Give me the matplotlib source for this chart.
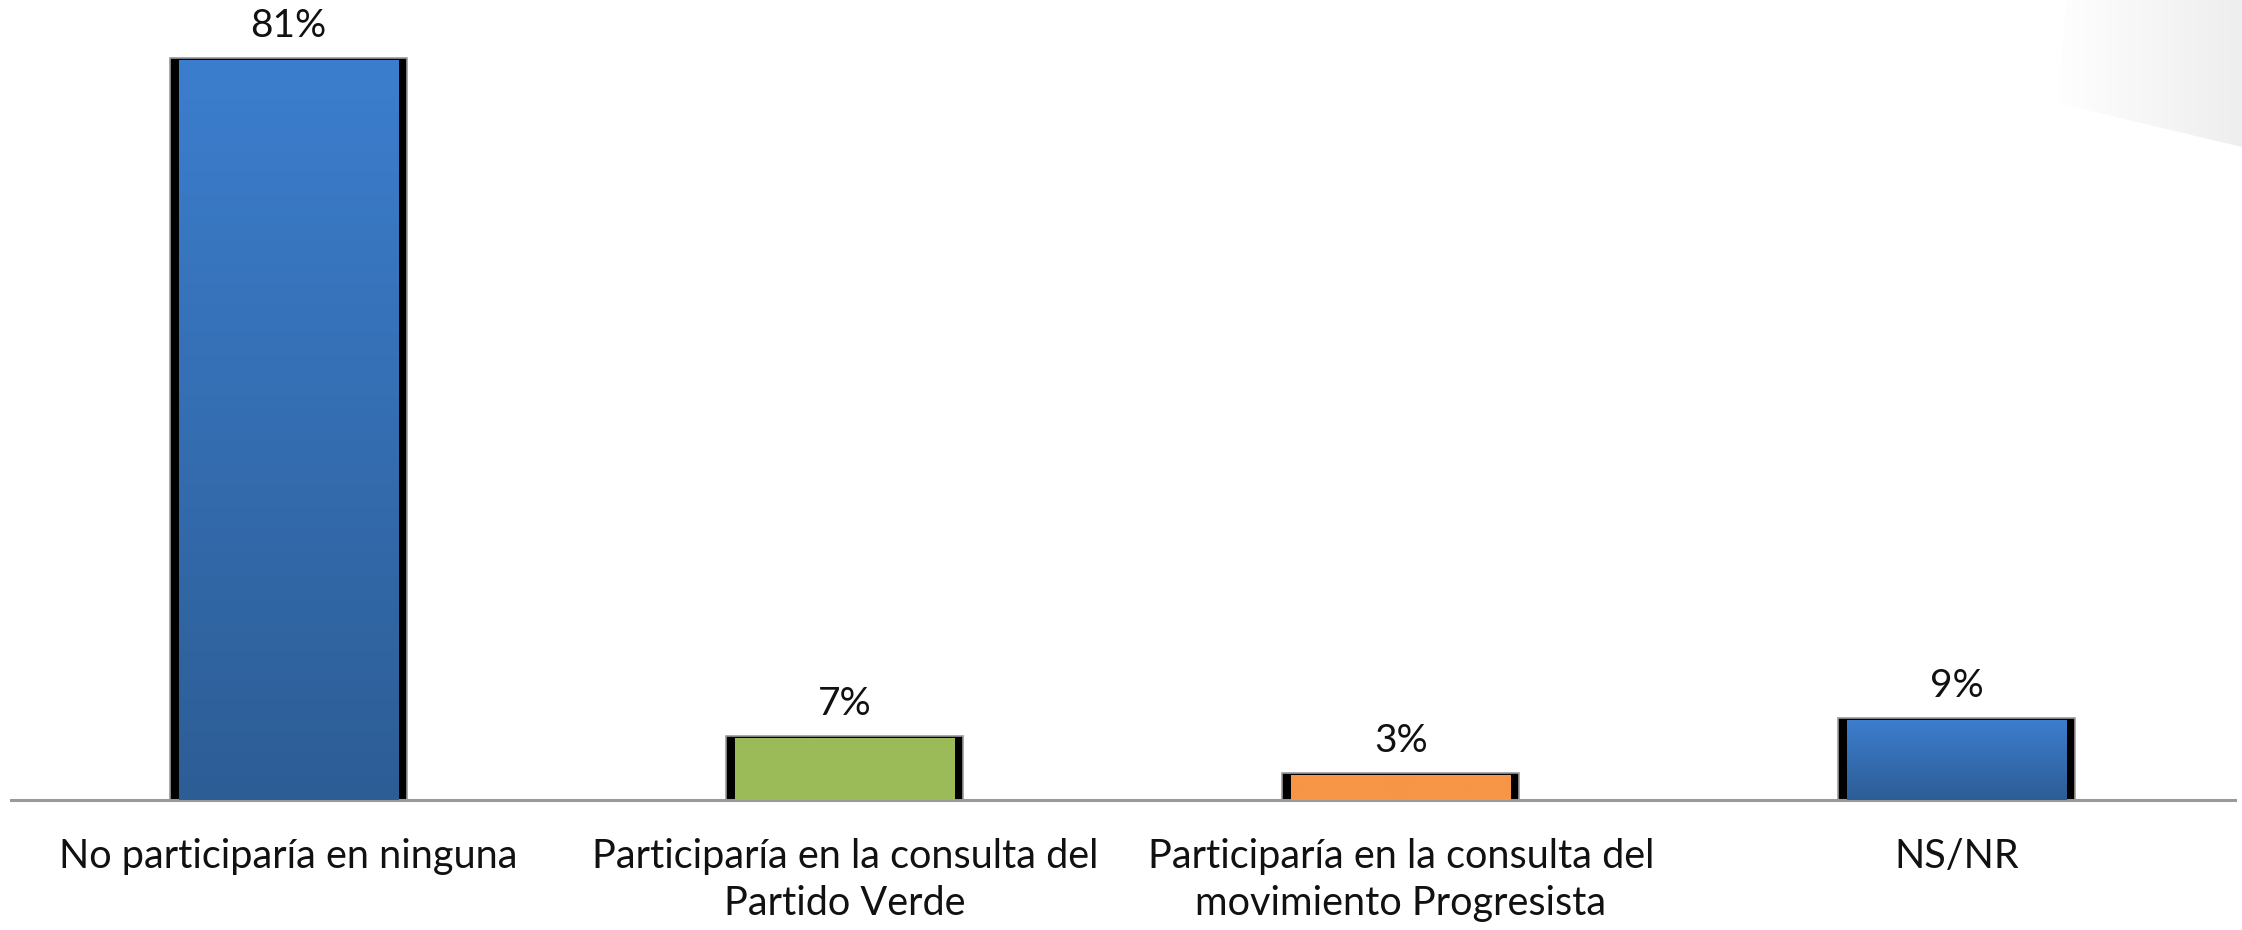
import numpy as np
import matplotlib
matplotlib.use("Agg")
import matplotlib.pyplot as plt
from matplotlib.colors import LinearSegmentedColormap
from matplotlib.patches import Polygon

categories = ["No participaría en ninguna",
              "Participaría en la consulta del\nPartido Verde",
              "Participaría en la consulta del\nmovimiento Progresista",
              "NS/NR"]
values = [81, 7, 3, 9]
labels = ["81%", "7%", "3%", "9%"]
colors = [("#3C7ECE", "#2D5D95"), ("#9BBB59", "#9BBB59"),
          ("#F79646", "#F79646"), ("#3C7ECE", "#2D5D95")]

plt.rcParams['font.family'] = ['Lato', 'DejaVu Sans']

fig = plt.figure(figsize=(22.42, 9.3), dpi=100)

# faint grey wedge top-right (slide background)
bg = fig.add_axes([0, 0, 1, 1], zorder=-5)
bg.set_xlim(0, 2242)
bg.set_ylim(930, 0)
bg.axis("off")
grad = np.tile(np.linspace(0, 1, 256), (2, 1))
wedge_cmap = LinearSegmentedColormap.from_list("w", ["#FFFFFF", "#EEEEEE"])
im = bg.imshow(grad, cmap=wedge_cmap, extent=[2050, 2242, 150, 0], aspect="auto")
wedge = Polygon([[2067, 0], [2242, 0], [2242, 147], [2057, 103]], closed=True,
                facecolor="none", edgecolor="none")
bg.add_patch(wedge)
im.set_clip_path(wedge)

ax = fig.add_axes([10.5 / 2242, 130 / 930, (2235 - 10.5) / 2242, (800 - 21) / 930])
ax.set_xlim(-0.5, 3.5)
ax.set_ylim(0, 85)

x = np.arange(len(categories))
outer_w = 0.426
inner_w = 0.394

# dark back of bars (gives the black side edges)
ax.bar(x, values, width=outer_w, color="black", edgecolor="#9A9A9A", linewidth=1.2, zorder=2)

for xi, v, (c_top, c_bot) in zip(x, values, colors):
    inner = ax.bar(xi, v - 0.25, width=inner_w, color=c_top, linewidth=0, zorder=3)[0]
    cmap = LinearSegmentedColormap.from_list("g", [c_bot, c_top])
    g = np.linspace(0, 1, 256).reshape(-1, 1)
    img = ax.imshow(g, cmap=cmap, origin="lower", aspect="auto",
                    extent=[xi - inner_w / 2, xi + inner_w / 2, 0, v - 0.25], zorder=4)
    img.set_clip_path(inner)

ax.set_xlim(-0.5, 3.5)
ax.set_ylim(0, 85)

for xi, v, lab in zip(x, values, labels):
    ax.annotate(lab, (xi, v), xytext=(0, 10), textcoords="offset points",
                ha="center", va="bottom", fontsize=28, color="#111111")

ax.set_xticks(x)
ax.set_xticklabels(categories, fontsize=28.5, color="#111111", linespacing=1.35)
ax.tick_params(axis="x", length=0, pad=27)
ax.set_yticks([])
for s in ["left", "top", "right"]:
    ax.spines[s].set_visible(False)
ax.spines["bottom"].set_color("#9A9A9A")
ax.spines["bottom"].set_linewidth(2.2)
ax.patch.set_alpha(0)

fig.savefig("out.png", dpi=100)
